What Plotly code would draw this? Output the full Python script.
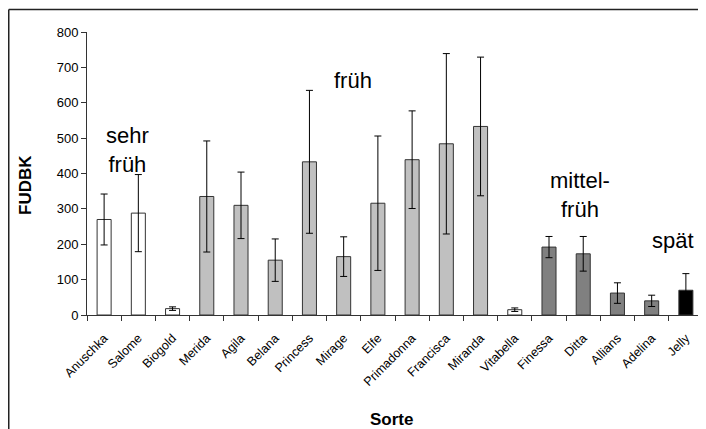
import plotly.graph_objects as go

categories = ["Anuschka", "Salome", "Biogold", "Merida", "Agila", "Belana", "Princess",
              "Mirage", "Elfe", "Primadonna", "Francisca", "Miranda", "Vitabella",
              "Finessa", "Ditta", "Allians", "Adelina", "Jelly"]
values = [270, 288, 18, 335, 310, 155, 433, 165, 316, 439, 484, 533, 15, 192, 173, 62, 40, 70]
errors = [72, 109, 5, 157, 94, 60, 202, 56, 190, 138, 255, 196, 5, 30, 49, 29, 16, 47]
groups = ["w", "w", "w", "l", "l", "l", "l", "l", "l", "l", "l", "l", "w", "d", "d", "d", "d", "k"]
group_colors = {"w": "#FFFFFF", "l": "#C0C0C0", "d": "#808080", "k": "#000000"}

group_labels = ["sehr<br>früh", "früh", "mittel-<br>früh", "spät"]
group_label_x = [0.67, 7.28, 13.9, 16.62]
group_label_y = [466, 664, 339, 212]

# page has an 8px body margin; the figure sits at (8, 8)
OFF = 8
W, H = 706 - OFF, 429 - OFF
ML, MR, MT, MB = 87 - OFF, 3, 32 - OFF, 114
PW, PH = W - ML - MR, H - MT - MB

FONT = "Liberation Sans, Arial, sans-serif"

def px_to_paper_x(px):
    return (px - OFF - ML) / PW

def px_to_paper_y(py):
    return (H - MB - (py - OFF)) / PH

fig = go.Figure()
fig.add_trace(go.Bar(
    x=categories, y=values,
    marker=dict(color=[group_colors[g] for g in groups], line=dict(color="#333333", width=1)),
    width=0.41,
    error_y=dict(type="data", array=errors, visible=True, color="#000000", thickness=1, width=3.5),
))

for t, xx, yy in zip(group_labels, group_label_x, group_label_y):
    fig.add_annotation(x=xx, y=yy, xref="x", yref="y", text=t, showarrow=False,
                       xanchor="center", yanchor="middle",
                       font=dict(family=FONT, size=22, color="#000000"), align="center")

# outer frame (left and top edges)
fig.add_shape(type="line", xref="paper", yref="paper",
              x0=px_to_paper_x(8.75), x1=px_to_paper_x(8.75), y0=px_to_paper_y(9.5), y1=px_to_paper_y(440),
              line=dict(color="#222222", width=1.5))
fig.add_shape(type="line", xref="paper", yref="paper",
              x0=px_to_paper_x(8.75), x1=px_to_paper_x(720), y0=px_to_paper_y(9.5), y1=px_to_paper_y(9.5),
              line=dict(color="#222222", width=1.5))

fig.add_annotation(xref="paper", yref="paper", x=px_to_paper_x(391), y=px_to_paper_y(419),
                   xanchor="center", yanchor="middle",
                   text="<b>Sorte</b>", showarrow=False,
                   font=dict(family=FONT, size=17, color="#000000"))
fig.add_annotation(xref="paper", yref="paper", x=px_to_paper_x(25), y=px_to_paper_y(185),
                   xanchor="center", yanchor="middle",
                   text="<b>FUDBK</b>", showarrow=False, textangle=-90,
                   font=dict(family=FONT, size=17, color="#000000"))

fig.update_layout(
    width=W, height=H,
    margin=dict(l=ML, r=MR, t=MT, b=MB),
    plot_bgcolor="#FFFFFF", paper_bgcolor="#FFFFFF",
    showlegend=False,
    font=dict(family=FONT, color="#000000"),
)
fig.update_xaxes(
    type="category", tickangle=-45, tickfont=dict(size=12.5, family=FONT),
    showline=True, linecolor="#333333", linewidth=1,
    ticks="outside", ticklen=5, tickcolor="#333333", tickson="boundaries",
    ticklabelstandoff=10,
    showgrid=False, zeroline=False,
)
fig.update_yaxes(
    range=[0, 800], dtick=100, tickfont=dict(size=13, family=FONT),
    showline=True, linecolor="#333333", linewidth=1,
    ticks="outside", ticklen=5, tickcolor="#333333",
    showgrid=False, zeroline=False,
)

fig.write_html("out.html")
